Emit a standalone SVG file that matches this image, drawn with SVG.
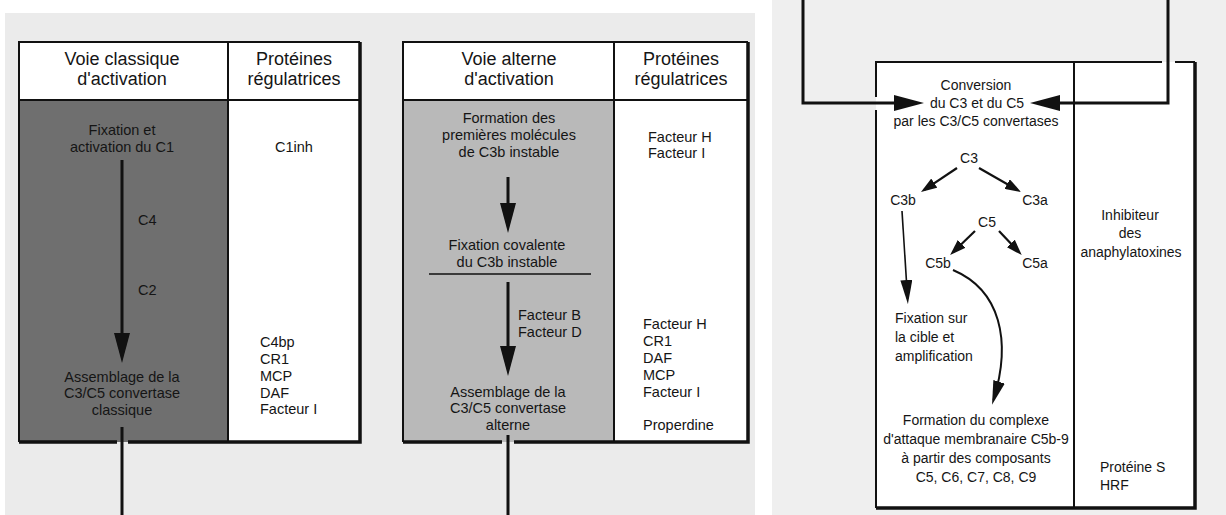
<svg xmlns="http://www.w3.org/2000/svg" width="1226" height="515" viewBox="0 0 1226 515">
<style>
text{font-family:"Liberation Sans",Arial,Helvetica,sans-serif;fill:#151515}
.h{font-size:18px;text-anchor:middle}
.b{font-size:14.5px}
.r{font-size:14px}
.m{text-anchor:middle}
.bd{stroke:#111;stroke-width:2;fill:none}
.bt{stroke:#111;stroke-width:3.5;fill:none}
.cn{stroke:#111;stroke-width:3;fill:none}
.th{stroke:#111;stroke-width:2.2;fill:none}
</style>
<defs>
<marker id="big" viewBox="0 0 30 16" markerWidth="30" markerHeight="16" refX="22" refY="8" orient="auto" markerUnits="userSpaceOnUse"><path d="M0,0 L30,8 L0,16 z" fill="#111"/></marker>
<marker id="md" viewBox="0 0 24 12" markerWidth="24" markerHeight="12" refX="19" refY="6" orient="auto" markerUnits="userSpaceOnUse"><path d="M0,0 L24,6 L0,12 z" fill="#111"/></marker>
<marker id="sm" viewBox="0 0 16 11" markerWidth="16" markerHeight="11" refX="12" refY="5.5" orient="auto" markerUnits="userSpaceOnUse"><path d="M0,0 L16,5.5 L0,11 z" fill="#111"/></marker>
</defs>
<rect x="0" y="0" width="1226" height="515" fill="#ffffff"/>
<rect x="5" y="13" width="750" height="502" fill="#ebebeb"/>
<rect x="772" y="0" width="454" height="515" fill="#efefef"/>

<g id="panel-classique">
<rect x="19" y="42" width="341" height="400" fill="#ffffff"/>
<rect x="19" y="100" width="209" height="342" fill="#6f6f6f"/>
<path class="bd" d="M19,442 V42 H360"/>
<path class="bd" d="M19,100 H360 M228,42 V442"/>
<path class="bt" d="M360,42 V442 H128 M117,442 H19"/>
<text class="h" x="122" y="65">Voie classique</text>
<text class="h" x="122" y="85">d'activation</text>
<text class="h" x="294" y="65">Protéines</text>
<text class="h" x="294" y="85">régulatrices</text>
<text class="b m" x="122" y="135">Fixation et</text>
<text class="b m" x="122" y="152">activation du C1</text>
<text class="b m" x="294" y="152">C1inh</text>
<text class="b" x="138" y="225">C4</text>
<text class="b" x="138" y="295">C2</text>
<text class="b m" x="122" y="382">Assemblage de la</text>
<text class="b m" x="122" y="398">C3/C5 convertase</text>
<text class="b m" x="122" y="415">classique</text>
<text class="b" x="260" y="347">C4bp</text>
<text class="b" x="260" y="364">CR1</text>
<text class="b" x="260" y="381">MCP</text>
<text class="b" x="260" y="398">DAF</text>
<text class="b" x="260" y="414">Facteur I</text>
</g>

<g id="panel-alterne">
<rect x="403" y="42" width="345" height="400" fill="#ffffff"/>
<rect x="403" y="100" width="211" height="342" fill="#b9b9b9"/>
<path class="bd" d="M403,442 V42 H748"/>
<path class="bd" d="M403,100 H748 M614,42 V442"/>
<path class="bt" d="M748,42 V442 H514 M502,442 H403"/>
<path d="M429,274 H591" stroke="#111" stroke-width="1.3"/>
<text class="h" x="509" y="65">Voie alterne</text>
<text class="h" x="509" y="85">d'activation</text>
<text class="h" x="681" y="65">Protéines</text>
<text class="h" x="681" y="85">régulatrices</text>
<text class="b m" x="509" y="123">Formation des</text>
<text class="b m" x="509" y="140">premières molécules</text>
<text class="b m" x="509" y="157">de C3b instable</text>
<text class="b" x="648" y="142">Facteur H</text>
<text class="b" x="648" y="158">Facteur I</text>
<text class="b m" x="507" y="250">Fixation covalente</text>
<text class="b m" x="507" y="267">du C3b instable</text>
<text class="b" x="518" y="320">Facteur B</text>
<text class="b" x="518" y="337">Facteur D</text>
<text class="b m" x="508" y="397">Assemblage de la</text>
<text class="b m" x="508" y="413">C3/C5 convertase</text>
<text class="b m" x="508" y="430">alterne</text>
<text class="b" x="643" y="329">Facteur H</text>
<text class="b" x="643" y="346">CR1</text>
<text class="b" x="643" y="363">DAF</text>
<text class="b" x="643" y="380">MCP</text>
<text class="b" x="643" y="397">Facteur I</text>
<text class="b" x="643" y="430">Properdine</text>
</g>

<g id="panel-terminale">
<rect x="876" y="62" width="319" height="446" fill="#ffffff"/>
<path class="bd" d="M876,97 V62 H1162 M1175,62 H1195 M876,110 V508"/>
<path class="bd" d="M1074,62 V508"/>
<path class="bt" d="M1195,62 V508 H876"/>
<text class="r m" x="976" y="90">Conversion</text>
<text class="r m" x="977" y="108">du C3 et du C5</text>
<text class="r m" x="976" y="126">par les C3/C5 convertases</text>
<text class="r m" x="969" y="163">C3</text>
<text class="r m" x="903" y="205">C3b</text>
<text class="r m" x="1035" y="205">C3a</text>
<text class="r m" x="987" y="227">C5</text>
<text class="r m" x="938" y="268">C5b</text>
<text class="r m" x="1035" y="268">C5a</text>
<text class="r" x="895" y="323">Fixation sur</text>
<text class="r" x="895" y="342">la cible et</text>
<text class="r" x="895" y="361">amplification</text>
<text class="r m" x="976" y="425">Formation du complexe</text>
<text class="r m" x="976" y="444">d'attaque membranaire C5b-9</text>
<text class="r m" x="976" y="463">à partir des composants</text>
<text class="r m" x="976" y="482">C5, C6, C7, C8, C9</text>
<text class="r m" x="1130" y="220">Inhibiteur</text>
<text class="r m" x="1130" y="238">des</text>
<text class="r m" x="1131" y="257">anaphylatoxines</text>
<text class="r" x="1100" y="472">Protéine S</text>
<text class="r" x="1100" y="490">HRF</text>
</g>

<g id="connectors">
<line class="cn" x1="122" y1="160" x2="122" y2="355" marker-end="url(#big)"/>
<line class="cn" x1="122" y1="427" x2="122" y2="515"/>
<line class="cn" x1="508" y1="177" x2="508" y2="225" marker-end="url(#big)"/>
<line class="cn" x1="508" y1="282" x2="508" y2="368" marker-end="url(#big)"/>
<line class="cn" x1="508" y1="435" x2="508" y2="515"/>
<path class="cn" d="M803,0 V103 H916" marker-end="url(#big)"/>
<path class="cn" d="M1168,0 V103 H1038" marker-end="url(#big)"/>
<line class="th" x1="957" y1="168" x2="924.3" y2="189.8" marker-end="url(#sm)"/>
<line class="th" x1="979" y1="168" x2="1017.5" y2="190" marker-end="url(#sm)"/>
<line class="th" x1="975" y1="231" x2="953" y2="252.2" marker-end="url(#sm)"/>
<line class="th" x1="999" y1="231" x2="1019" y2="252.2" marker-end="url(#sm)"/>
<line x1="902" y1="211" x2="907.6" y2="299" stroke="#111" stroke-width="1.6" marker-end="url(#md)"/>
<path d="M953,270 C1000,290 1012,340 993.5,400" stroke="#111" stroke-width="2" fill="none" marker-end="url(#md)"/>
</g>
</svg>
